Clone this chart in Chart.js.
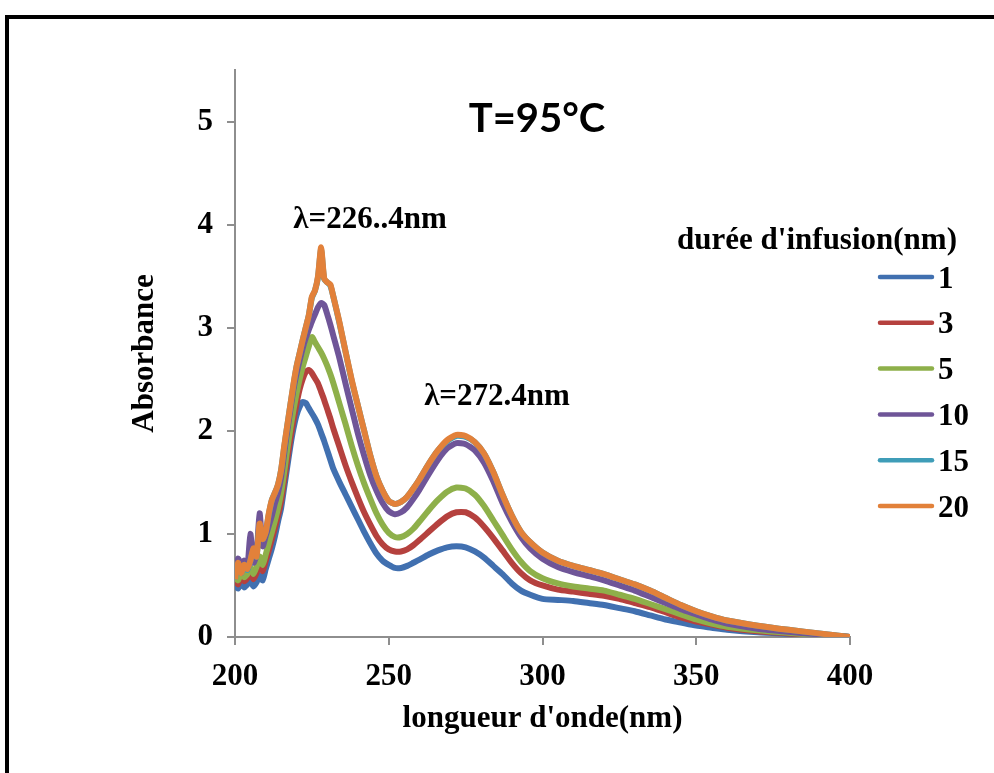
<!DOCTYPE html>
<html>
<head>
<meta charset="utf-8">
<script src="https://cdn.jsdelivr.net/npm/chart.js@4/dist/chart.umd.min.js"></script>
<style>
  html, body { margin: 0; padding: 0; background: #fff; }
  #wrap { position: relative; width: 994px; height: 773px; overflow: hidden; background: #fff; }
  #c { position: absolute; left: 0; top: 0; }
  #frame { position: absolute; left: 5px; top: 15px; right: -10px; bottom: -10px;
           border-left: 4px solid #000; border-top: 4px solid #000; pointer-events: none; }
</style>
</head>
<body>
<div id="wrap">
  <canvas id="c" width="994" height="773"></canvas>
  <div id="frame"></div>
</div>
<script>
// Wavelength grid (nm)
const wavelengths = [
  200,201,202,203,204,205,206,207,208,209,210,211,212,213,
  214,215,216,217,218,219,220,221,222,223,224,225,226,227,228,229,230,231,232,
  234,236,238,240,242,244,246,248,250,252,254,256,258,260,
  263,266,269,272,275,278,281,284,287,290,293,296,
  300,305,310,315,320,325,330,335,340,345,350,355,360,
  370,380,390,400
];

// Absorbance for each infusion time
const abs1 = [
  0.50,0.47,0.53,0.48,0.51,0.54,0.49,0.53,0.60,0.55,0.66,0.76,0.86,0.98,
  1.12,1.25,1.45,1.65,1.85,2.02,2.15,2.23,2.28,2.27,2.22,2.17,2.12,2.06,1.98,1.90,1.81,1.72,1.63,
  1.50,1.38,1.26,1.14,1.02,0.91,0.81,0.74,0.70,0.67,0.67,0.69,0.72,0.75,
  0.80,0.84,0.87,0.88,0.87,0.83,0.77,0.69,0.61,0.52,0.45,0.41,
  0.37,0.36,0.35,0.33,0.31,0.28,0.25,0.21,0.17,0.14,0.11,0.09,0.07,
  0.045,0.03,0.015,0.0
];
const abs3 = [
  0.55,0.51,0.58,0.54,0.57,0.62,0.56,0.62,0.70,0.64,0.74,0.84,0.95,1.06,
  1.18,1.32,1.52,1.72,1.92,2.10,2.26,2.40,2.50,2.57,2.59,2.56,2.51,2.46,2.38,2.30,2.21,2.12,2.02,
  1.84,1.66,1.50,1.35,1.21,1.09,0.98,0.90,0.85,0.83,0.83,0.85,0.89,0.94,
  1.02,1.10,1.17,1.21,1.21,1.16,1.07,0.96,0.84,0.72,0.62,0.55,
  0.50,0.46,0.44,0.42,0.40,0.37,0.33,0.29,0.24,0.19,0.15,0.12,0.09,
  0.055,0.035,0.018,0.0
];
const abs5 = [
  0.58,0.55,0.63,0.58,0.61,0.68,0.61,0.68,0.78,0.70,0.80,0.91,1.02,1.13,
  1.25,1.40,1.60,1.82,2.02,2.20,2.36,2.50,2.62,2.72,2.82,2.91,2.86,2.81,2.76,2.70,2.63,2.55,2.46,
  2.26,2.06,1.85,1.66,1.49,1.34,1.20,1.09,1.01,0.97,0.97,1.00,1.05,1.12,
  1.23,1.33,1.41,1.45,1.44,1.38,1.27,1.13,0.99,0.85,0.73,0.64,
  0.57,0.52,0.49,0.47,0.45,0.41,0.37,0.32,0.27,0.22,0.17,0.13,0.10,
  0.065,0.04,0.02,0.0
];
const abs10 = [
  0.62,0.76,0.70,0.74,0.66,1.00,0.72,0.80,1.20,0.88,0.98,1.08,1.18,1.30,
  1.40,1.55,1.78,2.00,2.20,2.40,2.55,2.68,2.80,2.90,2.98,3.06,3.13,3.20,3.24,3.22,3.13,3.03,2.92,
  2.70,2.45,2.21,1.97,1.76,1.57,1.42,1.30,1.22,1.19,1.21,1.26,1.34,1.43,
  1.58,1.72,1.83,1.88,1.87,1.81,1.69,1.51,1.30,1.12,0.97,0.86,
  0.76,0.68,0.63,0.59,0.55,0.50,0.45,0.39,0.33,0.27,0.22,0.17,0.13,
  0.08,0.05,0.025,0.0
];
const abs15 = [
  0.56,0.71,0.62,0.70,0.65,0.74,0.85,0.78,1.09,0.95,1.02,1.19,1.33,1.40,
  1.48,1.62,1.84,2.05,2.25,2.44,2.62,2.75,2.88,3.00,3.12,3.29,3.36,3.49,3.76,3.47,3.44,3.41,3.30,
  3.04,2.76,2.48,2.24,2.00,1.76,1.56,1.42,1.32,1.29,1.31,1.36,1.44,1.53,
  1.68,1.81,1.90,1.95,1.94,1.89,1.78,1.60,1.38,1.18,1.02,0.92,
  0.82,0.74,0.69,0.65,0.61,0.56,0.51,0.45,0.38,0.31,0.25,0.20,0.16,
  0.11,0.07,0.035,0.0
];
const abs20 = [
  0.56,0.72,0.62,0.70,0.66,0.74,0.86,0.78,1.10,0.95,1.02,1.20,1.33,1.40,
  1.48,1.62,1.85,2.05,2.25,2.45,2.62,2.75,2.88,3.00,3.12,3.30,3.36,3.50,3.78,3.48,3.44,3.42,3.30,
  3.05,2.76,2.49,2.24,2.00,1.76,1.56,1.42,1.32,1.29,1.31,1.36,1.44,1.53,
  1.68,1.81,1.91,1.96,1.95,1.89,1.78,1.60,1.38,1.18,1.02,0.92,
  0.82,0.74,0.69,0.65,0.61,0.56,0.51,0.45,0.38,0.31,0.25,0.20,0.16,
  0.11,0.07,0.035,0.0
];

const seriesNames  = ['1', '3', '5', '10', '15', '20'];
const seriesValues = [abs1, abs3, abs5, abs10, abs15, abs20];
const seriesColors = ['#4170B0', '#B5413E', '#8EB04A', '#6F5598', '#3F9DB8', '#E2813A'];

const xTicks = [200, 250, 300, 350, 400];
const yTicks = [0, 1, 2, 3, 4, 5];

const chartTitle  = 'T=95°C';
const legendTitle = "durée d'infusion(nm)";
const xTitle = "longueur d'onde(nm)";
const yTitle = 'Absorbance';
// peak notes, anchored in data space (wavelength, absorbance at text baseline)
const peakNotes = [
  { text: 'λ=226..4nm', at: [243.9, 3.97] },
  { text: 'λ=272.4nm',  at: [285.2, 2.25] }
];
const titleAt = [298.2, 4.90];

const SERIF = '"Liberation Serif", "Times New Roman", Times, serif';
const AXIS_GRAY = '#8e8e8e';

const overlay = {
  id: 'overlay',
  afterDraw(chart) {
    const { ctx, scales: { x, y } } = chart;
    ctx.save();
    ctx.fillStyle = '#000';
    ctx.textBaseline = 'alphabetic';

    // chart heading
    ctx.textAlign = 'center';
    ctx.font = 'bold 40px Lato, "Open Sans", sans-serif';
    ctx.fillText(chartTitle, x.getPixelForValue(titleAt[0]), y.getPixelForValue(titleAt[1]));

    // peak notes
    ctx.font = 'bold 31px ' + SERIF;
    peakNotes.forEach(n => {
      ctx.fillText(n.text, x.getPixelForValue(n.at[0]), y.getPixelForValue(n.at[1]));
    });

    // legend
    ctx.textAlign = 'right';
    ctx.fillText(legendTitle, 957, 249);
    const lx0 = 880, lx1 = 932, labelX = 938, firstY = 277, step = 45.8;
    ctx.lineCap = 'round';
    ctx.lineWidth = 4.5;
    chart.data.datasets.forEach((ds, i) => {
      const ly = firstY + i * step;
      ctx.strokeStyle = ds.borderColor;
      ctx.beginPath();
      ctx.moveTo(lx0, ly);
      ctx.lineTo(lx1, ly);
      ctx.stroke();
      ctx.textAlign = 'left';
      ctx.fillText(ds.label, labelX, ly + 10.5);
    });
    ctx.restore();
  }
};

const datasets = seriesNames.map((name, i) => ({
  label: name,
  data: wavelengths.map((w, j) => ({ x: w, y: seriesValues[i][j] })),
  borderColor: seriesColors[i],
  backgroundColor: seriesColors[i],
  borderWidth: 6,
  pointRadius: 0,
  tension: 0.2,
  fill: false,
  borderCapStyle: 'butt',
  borderJoinStyle: 'round',
  order: seriesNames.length - i
}));

new Chart(document.getElementById('c'), {
  type: 'line',
  data: { datasets },
  options: {
    responsive: false,
    animation: false,
    devicePixelRatio: 1,
    layout: { padding: { left: 0, top: 70, right: 144, bottom: 0 } },
    plugins: { legend: { display: false }, tooltip: { enabled: false } },
    scales: {
      x: {
        type: 'linear',
        min: xTicks[0],
        max: xTicks[xTicks.length - 1],
        afterBuildTicks(s) { s.ticks = xTicks.map(v => ({ value: v })); },
        afterFit(s) { s.height = 136; },
        ticks: { color: '#000', padding: 13, maxRotation: 0, autoSkip: false,
                 font: { family: SERIF, size: 31, weight: 'bold' } },
        grid: { display: true, drawOnChartArea: false, drawTicks: true, tickLength: 8,
                color: AXIS_GRAY, lineWidth: 2 },
        border: { display: true, color: AXIS_GRAY, width: 2 },
        title: { display: true, text: xTitle, color: '#000',
                 font: { family: SERIF, size: 31, weight: 'bold' },
                 padding: { top: 0, bottom: 35 } }
      },
      y: {
        type: 'linear',
        min: 0,
        max: 5.5,
        afterBuildTicks(s) { s.ticks = yTicks.map(v => ({ value: v })); },
        afterFit(s) { s.width = 235; },
        ticks: { color: '#000', padding: 14, autoSkip: false,
                 font: { family: SERIF, size: 31, weight: 'bold' } },
        grid: { display: true, drawOnChartArea: false, drawTicks: true, tickLength: 8,
                color: AXIS_GRAY, lineWidth: 2 },
        border: { display: true, color: AXIS_GRAY, width: 2 },
        title: { display: true, text: yTitle, color: '#000',
                 font: { family: SERIF, size: 31, weight: 'bold' },
                 padding: { top: 126, bottom: 0 } }
      }
    }
  },
  plugins: [overlay]
});
</script>
</body>
</html>
